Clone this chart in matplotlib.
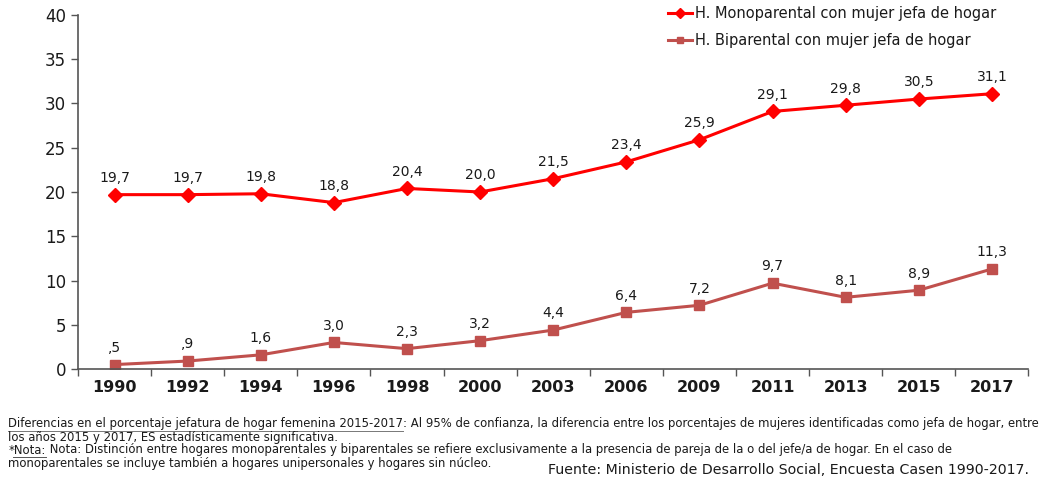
import matplotlib.pyplot as plt
from matplotlib.lines import Line2D

years = ["1990", "1992", "1994", "1996", "1998", "2000", "2003", "2006",
         "2009", "2011", "2013", "2015", "2017"]
mono = [19.7, 19.7, 19.8, 18.8, 20.4, 20.0, 21.5, 23.4, 25.9, 29.1, 29.8, 30.5, 31.1]
bipa = [0.5, 0.9, 1.6, 3.0, 2.3, 3.2, 4.4, 6.4, 7.2, 9.7, 8.1, 8.9, 11.3]
mono_name = "H. Monoparental con mujer jefa de hogar"
bipa_name = "H. Biparental con mujer jefa de hogar"

red = "#FF0000"
brick = "#C0504D"
txt = "#1a1a1a"


def fmt(v):
    s = f"{v:.1f}".replace(".", ",")
    if s.startswith("0"):
        s = s[1:]
    return s


fig = plt.figure(figsize=(10.62, 4.83), dpi=100)
ax = fig.add_axes([0.0734, 0.236, 0.895, 0.733])

xs = range(len(years))
ax.plot(xs, mono, color=red, lw=2.2, marker="D", ms=7, mfc=red, mec=red,
        label=mono_name)
ax.plot(xs, bipa, color=brick, lw=2.2, marker="s", ms=7, mfc=brick, mec=brick,
        label=bipa_name)

for x, v in zip(xs, mono):
    ax.annotate(fmt(v), (x, v), xytext=(0, 7), textcoords="offset points",
                ha="center", va="bottom", fontsize=10, color=txt)
for x, v in zip(xs, bipa):
    ax.annotate(fmt(v), (x, v), xytext=(0, 7), textcoords="offset points",
                ha="center", va="bottom", fontsize=10, color=txt)

ax.set_xlim(-0.5, len(years) - 0.5)
ax.set_ylim(0, 40)
ax.set_yticks(range(0, 41, 5))
ax.tick_params(axis="y", labelsize=12, colors="#555555", labelcolor=txt,
               length=5, width=1)
# categories between ticks
ax.set_xticks([i - 0.5 for i in range(len(years) + 1)])
ax.set_xticklabels([])
ax.set_xticks(list(xs), minor=True)
ax.set_xticklabels(years, minor=True, fontsize=11.5, fontweight="bold", color=txt)
ax.tick_params(axis="x", which="major", length=5, width=1, colors="#555555")
ax.tick_params(axis="x", which="minor", length=0, pad=8)

for s in ["top", "right"]:
    ax.spines[s].set_visible(False)
for s in ["left", "bottom"]:
    ax.spines[s].set_color("#555555")
    ax.spines[s].set_linewidth(1.2)

handles = [Line2D([], [], color=red, lw=2.2, marker="D", ms=5),
           Line2D([], [], color=brick, lw=2.2, marker="s", ms=5)]
fig.legend(handles, [mono_name, bipa_name], loc="upper left",
           bbox_to_anchor=(0.617, 1.015), frameon=False, fontsize=10.5,
           handlelength=1.6, handletextpad=0.25, labelspacing=0.85,
           labelcolor=txt)

# footnotes
fs = 8.4
under = "Diferencias en el porcentaje jefatura de hogar femenina 2015-2017"
t1 = fig.text(0.008, 1 - 424 / 483, under, fontsize=fs, color=txt, va="center")
fig.canvas.draw()
bb = t1.get_window_extent().transformed(fig.transFigure.inverted())
fig.text(bb.x1, 1 - 424 / 483,
         ": Al 95% de confianza, la diferencia entre los porcentajes de mujeres "
         "identificadas como jefa de hogar, entre",
         fontsize=fs, color=txt, va="center")
fig.add_artist(Line2D([bb.x0, bb.x1], [bb.y0 - 0.002, bb.y0 - 0.002],
                      color="#777777", lw=0.7, transform=fig.transFigure))
fig.text(0.008, 1 - 437 / 483,
         "los años 2015 y 2017, ES estadísticamente significativa.",
         fontsize=fs, color=txt, va="center")
t3 = fig.text(0.008, 1 - 450 / 483, "*Nota:", fontsize=fs, color=txt, va="center")
fig.canvas.draw()
bb3 = t3.get_window_extent().transformed(fig.transFigure.inverted())
fig.add_artist(Line2D([bb3.x0 + 0.004, bb3.x1], [bb3.y0 - 0.002, bb3.y0 - 0.002],
                      color="#555555", lw=0.7, transform=fig.transFigure))
fig.text(bb3.x1, 1 - 450 / 483,
         " Nota: Distinción entre hogares monoparentales y biparentales se refiere "
         "exclusivamente a la presencia de pareja de la o del jefe/a de hogar. "
         "En el caso de",
         fontsize=fs, color=txt, va="center")
fig.text(0.008, 1 - 463 / 483,
         "monoparentales se incluye también a hogares unipersonales y hogares sin núcleo.",
         fontsize=fs, color=txt, va="center")
fig.text(0.516, 1 - 470 / 483,
         "Fuente: Ministerio de Desarrollo Social, Encuesta Casen 1990-2017.",
         fontsize=10.2, color=txt, va="center")

fig.savefig("out.png", dpi=100)
